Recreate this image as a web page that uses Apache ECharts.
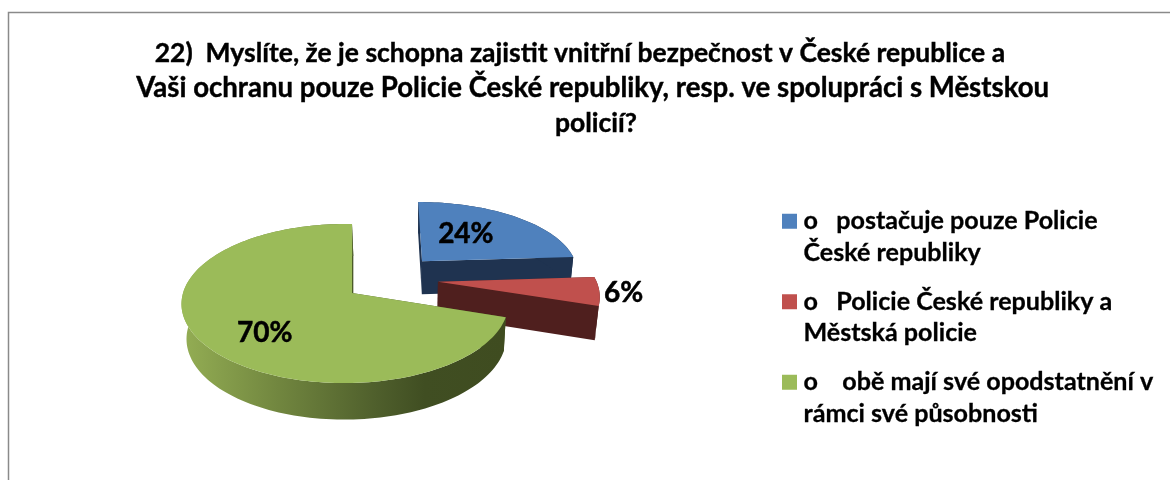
<!DOCTYPE html>
<html>
<head>
<meta charset="utf-8">
<style>
  html, body { margin: 0; padding: 0; background: #fff; }
  #chart { width: 1170px; height: 480px; }
</style>
</head>
<body>
<div id="chart"></div>
<script src="https://cdn.jsdelivr.net/npm/echarts@6/dist/echarts.min.js"></script>
<script>
const titleLines = [
  '22)  Myslíte, že je schopna zajistit vnitřní bezpečnost v České republice a     ',
  'Vaši ochranu pouze Policie České republiky, resp. ve spolupráci s Městskou ',
  'policií?'
]
const categories = [
  'o   postačuje pouze Policie\nČeské republiky',
  'o   Policie České republiky a\nMěstská policie',
  'o    obě mají své opodstatnění v\nrámci své působnosti'
]
const shares = [24, 6, 70]
const labels = ['24%', '6%', '70%']

const fontName = 'Lato, "Open Sans", sans-serif'
const topColors = ['#4f81bd', '#c0504d', '#9bbb59']
const cutColors = ['#1f3350', '#4f1f1e', '#4a5a28']

// pie plane -> screen, a small perspective so that far slices shrink
const view = { x: 352, y: 293, a: 161.7, b: 78.1, k: 0.132, depth: 34, vanishX: 414, converge: 0.0216 }
const sideTilt = [0, 0, 0.043]
const explode = [[0.4575, 0.43], [0.542, 0.147], [0, 0]]
const backSkew = [[4, 3], [0, 0], [0, 0]]
const labelRadius = [0.45, 1.147, 0.62]
const labelShiftY = [-6, 0, 9]

const project = (idx, angle, r) => {
  const u = explode[idx][0] + r * Math.sin(angle)
  const v = explode[idx][1] + r * Math.cos(angle)
  const d = 1 + view.k * v + sideTilt[idx] * u
  const back = r * Math.cos(angle)
  return {
    x: view.x + view.a * u / d + backSkew[idx][0] * back,
    y: view.y - view.b * v / d + backSkew[idx][1] * back,
    d
  }
}
const topPoint = (idx, angle, r) => {
  const p = project(idx, angle, r)
  return [p.x, p.y]
}
const bottomPoint = (idx, angle, r) => {
  const p = project(idx, angle, r)
  return [p.x + (view.vanishX - p.x) * view.converge, p.y + view.depth / Math.sqrt(p.d)]
}

const wall = (idx, angle) => ({
  type: 'polygon',
  shape: { points: [topPoint(idx, angle, 0), topPoint(idx, angle, 1), bottomPoint(idx, angle, 1), bottomPoint(idx, angle, 0)] },
  style: { fill: cutColors[idx] }
})

const greenSide = {
  type: 'linear', x: 0, y: 0, x2: 1, y2: 0,
  colorStops: [
    { offset: 0, color: '#94ae54' },
    { offset: 0.3, color: '#71863f' },
    { offset: 0.6, color: '#4f5f2c' },
    { offset: 0.75, color: '#404e22' },
    { offset: 1, color: '#3f4c20' }
  ]
}
const rimFill = [cutColors[0], cutColors[1], greenSide]

const renderSlice = (idx, api) => {
  const before = shares.slice(0, idx).reduce((a, b) => a + b, 0)
  const total = shares.reduce((a, b) => a + b, 0)
  const start = before / total * Math.PI * 2
  const end = (before + api.value(0)) / total * Math.PI * 2
  const steps = Math.ceil((end - start) / 0.03)
  const arcTop = []
  const arcBottom = []
  for (let i = 0; i <= steps; i++) {
    const angle = start + (end - start) * i / steps
    arcTop.push(topPoint(idx, angle, 1))
    arcBottom.push(bottomPoint(idx, angle, 1))
  }
  const mid = (start + end) / 2
  const labelAt = topPoint(idx, mid, labelRadius[idx])
  return {
    type: 'group',
    children: [
      wall(idx, start),
      wall(idx, end),
      {
        type: 'polygon',
        shape: { points: arcTop.concat(arcBottom.slice().reverse()) },
        style: { fill: rimFill[idx] }
      },
      {
        type: 'polygon',
        shape: { points: [topPoint(idx, 0, 0)].concat(arcTop) },
        style: { fill: topColors[idx] }
      },
      {
        type: 'text',
        x: labelAt[0],
        y: labelAt[1] + labelShiftY[idx],
        style: {
          text: labels[idx],
          fontFamily: fontName,
          fontWeight: 'bold',
          fontSize: 28,
          fill: '#000',
          stroke: '#000',
          lineWidth: 0.5,
          align: 'center',
          verticalAlign: 'middle'
        }
      }
    ]
  }
}

const titleStyle = { fontFamily: fontName, fontWeight: 'bold', lineHeight: 35, color: '#000', textBorderColor: '#000', textBorderWidth: 0.4 }

const chart = echarts.init(document.getElementById('chart'))
chart.setOption({
  animation: false,
  backgroundColor: '#fff',
  title: {
    text: '{a|' + titleLines[0] + '}\n{b|' + titleLines[1] + '}\n{a|' + titleLines[2] + '}',
    left: 591,
    top: 31,
    textAlign: 'center',
    textStyle: {
      rich: {
        a: { ...titleStyle, fontSize: 26.5 },
        b: { ...titleStyle, fontSize: 27.6 }
      }
    }
  },
  legend: {
    orient: 'vertical',
    left: 782,
    top: 174,
    padding: 0,
    itemWidth: 15,
    itemHeight: 15,
    itemGap: -14,
    icon: 'rect',
    selectedMode: false,
    formatter: name => '\n' + name,
    textStyle: { fontFamily: fontName, fontWeight: 'bold', fontSize: 25.1, lineHeight: 31.5, color: '#000', textBorderColor: '#000', textBorderWidth: 0.3, padding: [0, 0, 0, 1.5] }
  },
  graphic: [
    {
      type: 'polyline',
      shape: { points: [[8.5, 480], [8.5, 12.5], [1170, 12.5]] },
      style: { stroke: '#8a8a8a', lineWidth: 1.5, fill: null }
    }
  ],
  series: categories.map((name, idx) => ({
    type: 'custom',
    name,
    coordinateSystem: 'none',
    silent: true,
    itemStyle: { color: topColors[idx] },
    data: [[shares[idx]]],
    renderItem: (params, api) => renderSlice(idx, api)
  }))
})
</script>
</body>
</html>
